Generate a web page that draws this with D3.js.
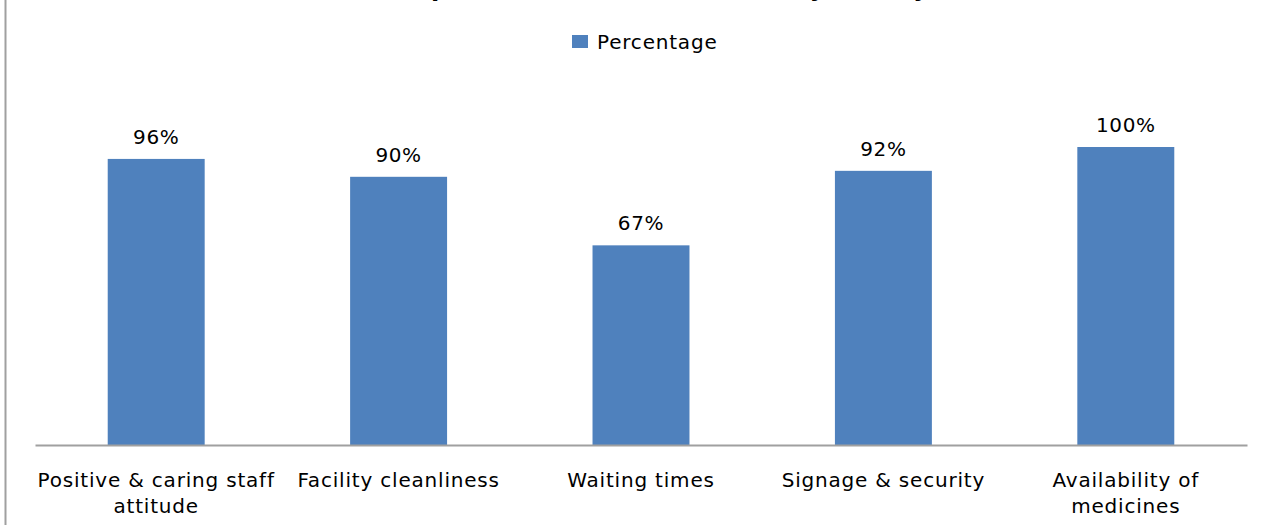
<!DOCTYPE html>
<html>
<head>
<meta charset="utf-8">
<script src="https://cdn.jsdelivr.net/npm/d3@7/dist/d3.min.js"></script>
<style>
  html, body { margin: 0; padding: 0; background: #ffffff; }
  svg { display: block; }
  text { font-family: "DejaVu Sans", sans-serif; fill: #000; }
</style>
</head>
<body>
<svg id="chart" width="1271" height="525"></svg>
<script>
// Chart data
const chartTitle = "Components of health service by facility";
const seriesName = "Percentage";
const categories = [
  ["Positive & caring staff", "attitude"],
  ["Facility cleanliness"],
  ["Waiting times"],
  ["Signage & security"],
  ["Availability of", "medicines"]
];
const values = [96, 90, 67, 92, 100];
const valueLabels = ["96%", "90%", "67%", "92%", "100%"];

const W = 1271, H = 525;
const plot = { left: 35, right: 1247, top: 147, bottom: 445 };
const barColor = "#4F81BD";
const lineColor = "#A0A0A0";

const svg = d3.select("#chart");

const keys = categories.map((c, i) => i);
const x = d3.scaleBand()
  .domain(keys)
  .range([plot.left, plot.right])
  .paddingInner(0.6)
  .paddingOuter(0.3);

const y = d3.scaleLinear()
  .domain([0, 100])
  .range([plot.bottom, plot.top]);

// Outer frame edge on the left
svg.append("line")
  .attr("x1", 5.5).attr("x2", 5.5)
  .attr("y1", 0).attr("y2", H)
  .attr("stroke", lineColor)
  .attr("stroke-width", 2);

// Title, sitting mostly above the top edge
svg.append("text")
  .attr("x", 371)
  .attr("y", -4)
  .style("font-weight", "bold")
  .style("font-size", "24px")
  .style("letter-spacing", "0.3px")
  .text(chartTitle);

// Legend
const legend = svg.append("g").attr("transform", "translate(572,35)");
legend.append("rect")
  .attr("width", 16).attr("height", 13)
  .attr("fill", barColor);
legend.append("text")
  .attr("x", 25)
  .attr("y", 14)
  .style("font-size", "20px")
  .style("letter-spacing", "0.8px")
  .text(seriesName);

// Bars
svg.append("g")
  .selectAll("rect")
  .data(values)
  .join("rect")
  .attr("x", (d, i) => x(i))
  .attr("y", d => y(d))
  .attr("width", x.bandwidth())
  .attr("height", d => y(0) - y(d))
  .attr("fill", barColor);

// Value labels
svg.append("g")
  .selectAll("text")
  .data(values)
  .join("text")
  .attr("x", (d, i) => x(i) + x.bandwidth() / 2)
  .attr("y", d => y(d) - 15)
  .attr("text-anchor", "middle")
  .style("font-size", "20px")
  .style("letter-spacing", "0.6px")
  .text((d, i) => valueLabels[i]);

// Category axis
const xAxis = d3.axisBottom(x).tickSize(0).tickFormat(() => "");
const axisG = svg.append("g")
  .attr("transform", `translate(0,${plot.bottom})`)
  .call(xAxis);
axisG.select(".domain")
  .attr("stroke", lineColor)
  .attr("stroke-width", 2);

const xlab = svg.append("g")
  .selectAll("text")
  .data(categories)
  .join("text")
  .attr("x", (d, i) => x(i) + x.bandwidth() / 2)
  .attr("y", 487)
  .attr("text-anchor", "middle")
  .style("font-size", "20px")
  .style("letter-spacing", "0.8px");
xlab.selectAll("tspan")
  .data(d => d)
  .join("tspan")
  .attr("x", function () { return d3.select(this.parentNode).attr("x"); })
  .attr("dy", (d, j) => j === 0 ? 0 : 26)
  .text(d => d);
</script>
</body>
</html>
